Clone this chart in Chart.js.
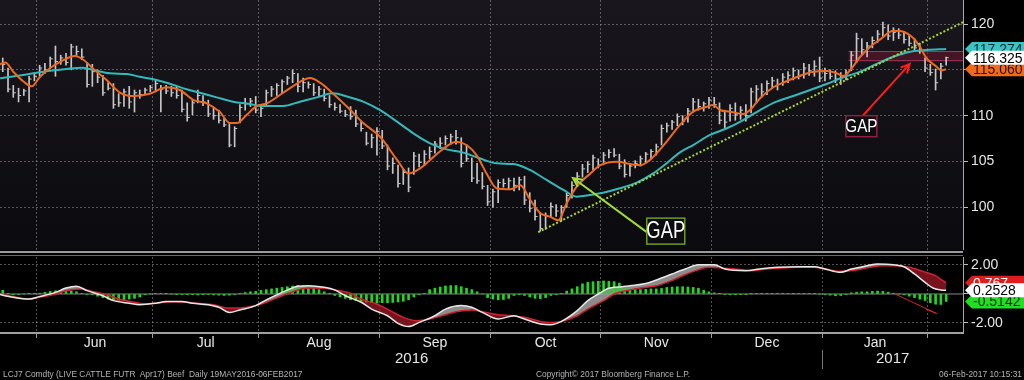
<!DOCTYPE html>
<html>
<head>
<meta charset="utf-8">
<script src="https://cdn.jsdelivr.net/npm/chart.js@4/dist/chart.umd.min.js"></script>
<style>
  body { margin: 0; background: #000; width: 1024px; height: 380px; overflow: hidden; position: relative; font-family: "Liberation Sans", Arial, sans-serif; }
  canvas { position: absolute; left: 0; }
  #priceChart { top: 0; }
  #macdChart { top: 257px; }
  .sep { position: absolute; left: 0; width: 963px; }
  .year { position: absolute; top: 350px; color: #e6e6e6; font-size: 15px; line-height: 16px; }
  .foot { position: absolute; top: 369px; color: #b4b4b4; font-size: 8.4px; line-height: 10px; white-space: pre; }
</style>
</head>
<body>
<canvas id="priceChart" width="1024" height="250"></canvas>
<div class="sep" style="top:251px;height:2px;background:#9a9a9a"></div>
<div class="sep" style="top:255px;height:1px;background:#666"></div>
<canvas id="macdChart" width="1024" height="123"></canvas>
<div class="year" style="left:395px">2016</div>
<div class="year" style="left:876px">2017</div>
<div style="position:absolute;left:822px;top:350px;width:1px;height:19px;background:#777"></div>
<div class="foot" style="left:3px">LCJ7 Comdty (LIVE CATTLE FUTR  Apr17) Beef  Daily 19MAY2016-06FEB2017</div>
<div class="foot" style="left:536px">Copyright© 2017 Bloomberg Finance L.P.</div>
<div class="foot" style="right:2px">06-Feb-2017 10:15:31</div>

<script>
Chart.defaults.font.family = '"Liberation Sans", Arial, sans-serif';

// Trading day index 0 = 19 May 2016, 180 = 06 Feb 2017
const xMin = 0.48;
const xMax = 183.2;

// Month boundaries (between last bar of a month and first of the next) and labels
const monthStarts = [7.5, 29.5, 49.5, 72.5, 93.5, 114.5, 135.5, 156.5, 176.5];
const monthLabels = ['Jun', 'Jul', 'Aug', 'Sep', 'Oct', 'Nov', 'Dec', 'Jan'];

// Daily bars: high / low / close
const highs = [
  116.4,116.3,115.2,113.3,113.0,112.9,114.3,114.6,115.5,115.7,
  116.4,117.6,116.6,116.8,117.8,117.6,117.3,115.8,115.6,115.0,
  114.4,113.6,113.5,112.4,112.9,113.2,112.8,112.8,113.0,113.3,
  113.9,113.3,113.3,113.2,113.2,112.8,111.4,111.7,112.8,112.2,
  111.7,110.9,110.6,109.7,109.2,108.8,111.2,111.9,111.9,112.1,
  111.0,112.8,113.2,113.5,113.9,114.3,115.0,114.6,114.1,113.7,
  113.5,113.2,112.9,112.2,111.4,111.2,110.6,111.0,110.6,109.4,
  108.2,108.0,108.7,108.4,106.8,105.4,104.6,104.2,104.3,106.0,
  105.8,106.2,106.6,107.2,107.6,107.8,108.0,108.4,107.6,106.8,
  105.4,104.8,103.8,102.4,102.0,103.0,103.1,103.2,103.2,103.3,
  103.4,101.6,100.8,99.4,99.4,100.5,100.3,100.2,101.6,102.8,
  103.8,104.7,105.0,105.7,105.3,106.0,106.3,106.4,105.8,105.2,
  104.8,105.1,105.6,106.0,106.3,106.9,109.0,109.2,109.5,110.2,
  110.0,110.8,111.9,111.8,111.5,112.0,112.0,111.4,110.6,111.2,
  111.4,111.0,111.2,113.0,113.3,113.5,113.8,114.2,114.0,114.6,
  114.8,115.2,115.0,115.7,115.6,116.0,116.4,115.2,115.0,114.9,
  114.7,115.0,117.0,119.0,118.4,118.0,118.6,119.3,120.2,119.9,
  119.6,119.5,119.2,118.8,118.4,117.9,116.3,115.6,115.1,115.7,
  116.4
];
const lows = [
  115.2,114.8,112.6,112.0,111.5,112.2,111.5,113.8,114.3,114.6,
  115.1,114.3,115.6,115.5,115.0,116.6,116.1,113.1,113.2,113.6,
  112.2,112.8,110.8,111.0,111.0,110.8,110.4,111.9,112.4,112.6,
  112.6,110.4,112.4,112.1,111.9,110.4,109.4,110.1,111.4,111.1,
  109.9,109.6,109.2,108.8,106.6,106.6,109.2,110.6,111.0,110.3,
  109.9,111.0,112.1,112.2,112.4,113.4,113.6,112.6,112.6,113.0,
  112.2,112.1,111.6,110.9,110.6,110.3,109.9,109.6,108.8,108.3,
  106.8,106.5,105.7,106.4,104.1,103.7,102.2,102.5,101.7,103.6,
  104.4,104.6,105.3,105.9,106.4,106.8,106.9,106.9,104.4,105.0,
  102.8,102.6,102.0,100.2,100.0,100.5,102.2,102.0,101.8,101.9,
  100.3,99.5,98.6,97.4,97.6,98.9,99.0,98.5,100.0,101.0,
  102.6,103.3,103.8,104.1,104.3,104.9,105.4,105.5,104.2,103.3,
  103.4,104.3,104.5,104.9,105.3,105.7,106.8,108.2,108.5,108.9,
  109.0,109.3,110.4,110.6,110.5,110.8,110.9,109.1,108.7,109.4,
  109.5,109.6,109.4,110.3,111.4,112.0,112.3,113.0,112.8,113.3,
  113.6,113.9,114.0,114.1,114.4,114.3,113.7,113.8,114.0,113.6,
  113.4,113.9,114.9,115.8,116.6,116.4,117.4,118.0,118.6,118.3,
  118.2,118.4,117.9,117.6,117.1,116.8,114.8,114.4,112.8,114.0,
  115.5
];
const closes = [
  115.9,115.6,112.9,112.5,112.2,112.7,114.0,114.3,115.2,115.0,
  116.2,115.9,116.3,115.8,117.5,117.0,116.4,113.4,114.8,114.2,
  112.5,113.0,111.2,111.4,112.6,111.5,112.5,112.3,112.8,113.1,
  113.5,112.9,112.7,112.5,112.2,110.7,109.8,111.4,112.2,111.5,
  110.2,110.0,109.5,109.0,106.8,108.6,110.9,111.3,111.6,110.6,
  110.8,112.5,112.9,113.3,113.7,114.1,114.6,113.2,113.6,113.4,
  112.5,112.9,111.9,111.2,110.9,110.5,110.1,109.9,109.1,108.6,
  107.0,107.6,108.3,106.7,104.5,104.8,102.6,103.8,102.2,105.6,
  104.9,105.8,106.1,106.9,107.0,107.5,107.7,107.6,104.8,105.3,
  103.2,102.9,102.3,100.6,101.7,102.7,102.6,102.9,102.4,103.0,
  100.8,99.9,99.0,97.7,99.1,100.1,99.6,100.0,101.3,102.4,
  103.4,104.2,104.7,105.4,104.6,105.7,106.0,105.7,104.5,103.6,
  104.5,104.8,105.3,105.8,106.1,106.6,108.6,108.9,109.3,109.9,
  109.4,110.5,111.5,111.0,111.3,111.7,111.2,109.5,109.3,110.8,
  110.1,110.6,110.0,112.6,112.9,112.6,113.5,113.8,113.4,114.2,
  114.4,114.9,114.3,115.2,114.9,115.4,114.1,114.6,114.3,114.0,
  114.2,114.7,116.6,118.4,117.2,117.6,118.2,118.9,119.6,118.7,
  119.1,118.8,118.3,117.9,117.4,117.1,115.2,114.7,113.6,115.4,
  116.325
];

// Fast moving average (orange), read at these bar positions
const fastIdx = [0,1.5,3,5,6.5,8,10,12,14.7,16.3,18.2,20.7,23.3,25.8,28.9,32.1,34.6,37.2,39.7,42.2,
  44.1,45.4,47.3,49.2,51.1,54.2,57.4,59.3,61.2,63.7,66.3,69.4,72.6,75.8,78,80.2,82.1,84.6,87.1,89,
  90.9,92.8,94.7,97.3,99.2,101.1,103,104.8,106.4,108,109.9,112.5,114.4,117.5,120.1,122,123.8,126.3,129.5,132,
  134.6,135.8,137.1,139,141.5,142.8,144.7,147.2,149.8,152.3,154.8,157.4,159.3,160.5,161.8,163.7,165.6,167.5,170,171.9,
  173.8,175,176.3,178.2,179,180];
const fastVal = [115.5,115.8,114.8,113.7,113.2,114.2,115.2,115.9,116.5,116.1,115.1,113.9,112.5,112.15,112.4,113.1,112.8,111.7,111.35,110.4,
  109.2,109.2,110.1,111.06,111.35,112.5,113.7,114.1,113.6,112.4,111.0,109.2,107.7,105.2,103.7,104.26,105.17,106.4,107.17,106.8,
  105.7,103.7,102.08,101.97,102.4,100.8,99.36,98.99,98.6,100.45,102.26,103.7,104.6,104.98,104.73,104.6,105.17,106.7,109.0,110.44,
  110.98,111.17,110.62,110.44,110.19,110.62,111.9,113.1,113.78,114.36,114.8,114.87,114.62,114.33,114.98,116.43,117.53,118.33,119.27,119.16,
  118.44,117.53,116.26,115.35,114.95,115.06];

// Slow moving average (cyan)
const slowIdx = [0.5,3.6,6.8,10,13.1,16,18.2,21.4,24.5,27,30.2,33.4,35.9,38.4,41.6,44.7,47.9,49.8,54.2,57.4,
  60.6,63.7,66.3,69.4,72.6,75.8,78.9,82.1,85.2,88.4,91.5,94.7,97.9,101,104.2,107.4,109.9,112.4,114.9,118.1,
  121.3,124.4,126.5,129.5,132,135.2,138.4,141.5,144.7,147.8,151,154.2,157.3,160.5,163.7,166.8,170,173.2,176.3,180];
const slowVal = [114.08,114.33,114.62,114.9,115.1,115.24,114.98,114.62,114.55,114.25,113.9,113.35,112.88,112.5,112.0,111.53,111.28,111.06,111.06,111.53,
  112.0,112.44,112.1,111.53,110.6,109.35,108.08,106.99,106.33,105.97,105.35,104.8,104.73,104.08,102.99,101.9,101.17,101.35,101.6,102.08,
  102.7,103.7,104.6,106.0,106.8,107.9,108.63,109.53,110.62,111.53,112.15,112.8,113.46,114.19,114.8,115.64,116.43,116.98,117.16,117.27];

// Trend line (dotted) through the October low
const trendIdx = [102.6, 183.2];
const trendVal = [97.3, 120.2];

// Gap zone and annotation arrows [bar index, price]
const gapStart = 161.5;
const gapLow = 116.0;
const gapHigh = 117.0;
const greenArrow = [[123.2, 97.3], [109.2, 103.2]];
const redArrow = [[164.2, 110.0], [173.1, 115.65]];

// Lower panel: MACD (white), signal (red), histogram (green)
const macdIdx = [0,3,6,8,11,13,15,17,20,22,25,27,30,32,35,37,40,42,44,46,
  49,51,54,57,59,62,64,66,69,71,74,76,78,80,83,85,88,90,92,95,
  98,100,103,105,107,110,112,114,116,118.5,120,123,125.5,128,130.5,133,136,138,142,144.5,
  148,152,155,157,160,162,165,167,170,172,174,176,177.5,179,180];
const macdVal = [0.0,-0.23,-0.35,-0.18,0.11,0.41,0.53,0.23,-0.12,-0.46,-0.64,-0.74,-0.64,-0.51,-0.51,-0.64,-0.74,-0.92,-1.27,-1.10,
  -0.80,-0.41,0.11,0.53,0.57,0.46,0.28,-0.12,-0.57,-1.04,-1.50,-2.03,-2.25,-1.96,-1.50,-1.04,-0.80,-0.92,-1.27,-1.73,
  -1.50,-1.73,-2.07,-2.12,-1.89,-1.15,-0.46,0.0,0.39,0.50,0.57,0.73,1.03,1.38,1.72,2.02,2.02,1.72,1.61,1.72,
  1.84,1.88,1.88,1.72,1.49,1.72,1.95,2.07,2.02,1.88,1.38,0.80,0.41,0.28,0.2528];
const sigIdx = [0,3,6,8,11,13,16,18,21,23,26,28,31,33,36,38,41,43.5,46,49,
  51,54,57,59,62,64,67,69,72,74.5,77,79.5,82,85,87,90,92,95,97.6,100,
  103,105,107,110,112,115,117,120,122,125,127.5,130,132.5,135,137.5,141,143,146,149,152,
  155,157,160,163,165.5,168,170.5,173,175.6,178,179,180];
const sigVal = [0.04,-0.18,-0.35,-0.23,0.0,0.23,0.34,0.18,-0.07,-0.35,-0.57,-0.69,-0.60,-0.53,-0.57,-0.64,-0.74,-0.97,-0.97,-0.80,
  -0.57,-0.12,0.28,0.41,0.39,0.28,0.04,-0.35,-0.69,-1.15,-1.61,-1.84,-1.73,-1.43,-1.22,-1.10,-1.22,-1.43,-1.50,-1.61,
  -1.89,-1.96,-1.89,-1.50,-1.04,-0.46,0.0,0.28,0.41,0.57,0.87,1.26,1.61,1.84,1.79,1.68,1.61,1.72,1.79,1.84,
  1.84,1.72,1.56,1.65,1.84,1.95,1.95,1.84,1.56,1.26,1.0,0.767];
const hist = [
  0.30,0.25,0.05,-0.05,-0.05,0.00,0.05,0.05,0.05,0.12,
  0.18,0.22,0.22,0.20,0.20,0.15,0.02,-0.03,-0.05,-0.15,
  -0.25,-0.35,-0.40,-0.42,-0.40,-0.35,-0.30,-0.20,-0.05,0.00,
  0.03,0.03,0.02,0.00,-0.02,-0.03,-0.05,-0.05,-0.06,-0.05,
  -0.04,-0.06,-0.08,-0.10,-0.08,-0.05,0.05,0.10,0.15,0.18,
  0.25,0.30,0.35,0.40,0.45,0.50,0.55,0.60,0.55,0.50,
  0.40,0.30,0.15,0.05,-0.10,-0.20,-0.30,-0.40,-0.45,-0.50,
  -0.55,-0.60,-0.62,-0.60,-0.60,-0.58,-0.55,-0.50,-0.40,-0.20,
  -0.05,0.05,0.30,0.40,0.48,0.55,0.58,0.58,0.50,0.40,
  0.30,0.15,0.00,-0.25,-0.35,-0.40,-0.38,-0.30,-0.10,-0.05,
  -0.10,-0.20,-0.30,-0.32,-0.25,-0.10,-0.05,0.05,0.20,0.35,
  0.50,0.70,0.80,0.85,0.88,0.90,0.88,0.85,0.75,0.55,
  0.35,0.30,0.30,0.32,0.35,0.35,0.38,0.45,0.48,0.50,
  0.50,0.48,0.45,0.40,0.25,0.15,0.08,0.02,-0.03,-0.05,
  -0.05,-0.04,-0.02,0.02,0.03,0.05,0.05,0.04,0.05,0.05,
  0.03,0.02,0.03,0.04,0.03,0.02,0.00,-0.02,-0.08,-0.12,
  -0.10,-0.05,0.08,0.12,0.15,0.15,0.18,0.20,0.18,0.12,
  0.05,0.00,-0.05,-0.15,-0.25,-0.35,-0.45,-0.60,-0.70,-0.72,
  -0.5142
];

// Last values shown in the axis tags
const lastSlow = '117.274', lastClose = '116.325', lastFast = '115.060';
const lastSignal = '0.767', lastMacd = '0.2528', lastHist = '-0.5142';

const gridColor = 'rgba(150,150,158,0.55)';
const pairs = (idx, val) => idx.map((v, k) => ({x: v, y: val[k]}));
const noPad = s => { s.paddingTop = 0; s.paddingBottom = 0; s.paddingLeft = 0; s.paddingRight = 0; };

function drawTag(ctx, x, y, text, bg, fg) {
  const h = 14;
  ctx.save();
  ctx.fillStyle = bg;
  ctx.beginPath();
  ctx.moveTo(x, y);
  ctx.lineTo(x + 7, y - h / 2);
  ctx.lineTo(1024, y - h / 2);
  ctx.lineTo(1024, y + h / 2);
  ctx.lineTo(x + 7, y + h / 2);
  ctx.closePath();
  ctx.fill();
  ctx.fillStyle = fg;
  ctx.font = '14px "Liberation Sans", Arial';
  ctx.textBaseline = 'middle';
  ctx.fillText(text, x + 8, y + 1);
  ctx.restore();
}

function drawArrow(ctx, x1, y1, x2, y2, color) {
  const ang = Math.atan2(y2 - y1, x2 - x1);
  ctx.save();
  ctx.strokeStyle = color;
  ctx.lineWidth = 2;
  ctx.beginPath();
  ctx.moveTo(x1, y1);
  ctx.lineTo(x2, y2);
  ctx.moveTo(x2 - 10 * Math.cos(ang - 0.45), y2 - 10 * Math.sin(ang - 0.45));
  ctx.lineTo(x2, y2);
  ctx.lineTo(x2 - 10 * Math.cos(ang + 0.45), y2 - 10 * Math.sin(ang + 0.45));
  ctx.stroke();
  ctx.restore();
}

function drawGapBox(ctx, left, top, w, h, border, size) {
  ctx.save();
  ctx.fillStyle = '#0d0c10';
  ctx.fillRect(left, top, w, h);
  ctx.strokeStyle = border;
  ctx.lineWidth = 1.5;
  ctx.strokeRect(left, top, w, h);
  ctx.fillStyle = '#ffffff';
  ctx.font = size + 'px "Liberation Sans", Arial';
  ctx.textAlign = 'center';
  ctx.textBaseline = 'middle';
  ctx.translate(left + w / 2, top + h / 2 + 1);
  ctx.scale(0.8, 1);
  ctx.fillText('GAP', 0, 0);
  ctx.restore();
}

const upperDecor = {
  id: 'upperDecor',
  beforeDraw(chart) {
    const {ctx, chartArea: a} = chart;
    const g = ctx.createLinearGradient(0, a.top, 0, a.bottom);
    g.addColorStop(0, '#19171d');
    g.addColorStop(1, '#0b0a0e');
    ctx.save();
    ctx.fillStyle = g;
    ctx.fillRect(a.left, a.top, a.right - a.left, a.bottom - a.top);
    ctx.restore();
  },
  beforeDatasetsDraw(chart) {
    const {ctx, chartArea: a, scales: {x, y}} = chart;
    const x0 = x.getPixelForValue(gapStart);
    const y0 = y.getPixelForValue(gapHigh);
    const y1 = y.getPixelForValue(gapLow);
    ctx.save();
    ctx.fillStyle = 'rgba(110,22,48,0.55)';
    ctx.fillRect(x0, y0, a.right - x0, y1 - y0);
    ctx.strokeStyle = 'rgba(175,60,95,0.9)';
    ctx.lineWidth = 1;
    ctx.beginPath();
    ctx.moveTo(x0, y0); ctx.lineTo(a.right, y0);
    ctx.moveTo(x0, y1); ctx.lineTo(a.right, y1);
    ctx.stroke();
    ctx.restore();
  },
  afterDraw(chart) {
    const {ctx, chartArea: a, scales: {x, y}} = chart;
    const p = pt => [x.getPixelForValue(pt[0]), y.getPixelForValue(pt[1])];
    const [gx1, gy1] = p(greenArrow[0]);
    const [gx2, gy2] = p(greenArrow[1]);
    drawArrow(ctx, gx1, gy1, gx2, gy2, '#a2dd34');
    drawGapBox(ctx, gx1, gy1 - 14, 38, 26, '#6f9a2a', 23);
    const [rx1, ry1] = p(redArrow[0]);
    const [rx2, ry2] = p(redArrow[1]);
    drawArrow(ctx, rx1, ry1, rx2, ry2, '#ff1c1c');
    drawGapBox(ctx, rx1 - 17, ry1, 31, 21, '#8e1f3f', 19);
    const tx = a.right + 2;
    drawTag(ctx, tx, y.getPixelForValue(parseFloat(lastSlow)), lastSlow, '#3cc4c4', '#0a2a33');
    drawTag(ctx, tx, y.getPixelForValue(parseFloat(lastFast)), lastFast, '#f26b1d', '#2a1000');
    drawTag(ctx, tx, y.getPixelForValue(parseFloat(lastClose)), lastClose, '#ffffff', '#000000');
  }
};

const lowerDecor = {
  id: 'lowerDecor',
  beforeDraw(chart) {
    const {ctx, chartArea: a, scales: {y}} = chart;
    const y0 = y.getPixelForValue(0);
    ctx.save();
    ctx.strokeStyle = '#8a8a8a';
    ctx.lineWidth = 1;
    ctx.beginPath();
    ctx.moveTo(a.left, y0);
    ctx.lineTo(a.right, y0);
    ctx.stroke();
    ctx.restore();
  },
  afterDatasetsDraw(chart) {
    const {ctx, scales: {x, y}} = chart;
    ctx.save();
    ctx.strokeStyle = '#d4202e';
    ctx.lineWidth = 1;
    ctx.beginPath();
    ctx.moveTo(x.getPixelForValue(170.3), y.getPixelForValue(0));
    ctx.lineTo(x.getPixelForValue(178.3), y.getPixelForValue(-1.36));
    ctx.lineTo(x.getPixelForValue(176.2), y.getPixelForValue(-1.05));
    ctx.stroke();
    ctx.restore();
  },
  afterDraw(chart) {
    const {ctx, chartArea: a, scales: {y}} = chart;
    const tx = a.right + 2;
    drawTag(ctx, tx, y.getPixelForValue(parseFloat(lastSignal)), lastSignal, '#e01c1c', '#ffffff');
    drawTag(ctx, tx, y.getPixelForValue(parseFloat(lastHist)), lastHist, '#22dd22', '#003300');
    drawTag(ctx, tx, y.getPixelForValue(parseFloat(lastMacd)), lastMacd, '#ffffff', '#000000');
  }
};

// Upper panel: price bars with moving averages
new Chart(document.getElementById('priceChart'), {
  type: 'bar',
  data: {
    datasets: [
      { type: 'line', data: pairs(trendIdx, trendVal), borderColor: '#a9d631', borderWidth: 2, borderDash: [2, 2], pointRadius: 0, order: 0 },
      { type: 'line', data: pairs(fastIdx, fastVal), borderColor: '#f06a1e', borderWidth: 2, pointRadius: 0, cubicInterpolationMode: 'monotone', order: 1 },
      { type: 'line', data: pairs(slowIdx, slowVal), borderColor: '#33b9b9', borderWidth: 2, pointRadius: 0, cubicInterpolationMode: 'monotone', order: 2 },
      { type: 'line', data: closes.map((c, i) => ({x: i, y: c})), showLine: false, pointStyle: 'dash', pointRadius: 2.6,
        borderColor: '#c6c6c6', pointBorderColor: '#c6c6c6', pointBorderWidth: 1, order: 3 },
      { type: 'bar', data: highs.map((h, i) => ({x: i, y: [lows[i], h]})), backgroundColor: '#c6c6c6', barThickness: 1, order: 4 }
    ]
  },
  options: {
    responsive: false,
    animation: false,
    events: [],
    layout: { padding: 0, autoPadding: false },
    plugins: { legend: { display: false }, tooltip: { enabled: false } },
    scales: {
      x: {
        type: 'linear', min: xMin, max: xMax, offset: false,
        afterBuildTicks: s => { s.ticks = monthStarts.map(v => ({value: v})); },
        afterFit: s => { s.height = 0; noPad(s); },
        ticks: { display: false },
        grid: { color: gridColor, drawTicks: false, offset: false },
        border: { display: false, dash: [2, 2] }
      },
      y: {
        position: 'right', min: 95.35, max: 122.62,
        afterBuildTicks: s => { s.ticks = [100, 105, 110, 115, 120].map(v => ({value: v})); },
        afterFit: s => { s.width = 61; noPad(s); },
        ticks: { color: '#e6e6e6', font: { size: 14 }, padding: 3, callback: v => v === 115 ? '' : v },
        grid: { color: gridColor, tickLength: 5, tickColor: '#bbbbbb' },
        border: { color: '#a8a8a8', dash: [2, 2] }
      }
    }
  },
  plugins: [upperDecor]
});

// Lower panel: MACD with signal and histogram
new Chart(document.getElementById('macdChart'), {
  type: 'bar',
  data: {
    datasets: [
      { type: 'line', data: pairs(macdIdx, macdVal), borderColor: '#e8e8e8', borderWidth: 1.5, pointRadius: 0,
        cubicInterpolationMode: 'monotone', order: 0,
        fill: { target: 1, above: 'rgba(165,165,165,0.85)', below: 'rgba(140,22,34,0.85)' } },
      { type: 'line', data: pairs(sigIdx, sigVal), borderColor: '#cf2230', borderWidth: 1.5, pointRadius: 0,
        cubicInterpolationMode: 'monotone', order: 1 },
      { type: 'bar', data: hist.map((v, i) => ({x: i, y: v})), backgroundColor: '#20d820', barThickness: 2, order: 2 }
    ]
  },
  options: {
    responsive: false,
    animation: false,
    events: [],
    layout: { padding: 0, autoPadding: false },
    plugins: { legend: { display: false }, tooltip: { enabled: false }, filler: { drawTime: 'beforeDatasetsDraw' } },
    scales: {
      x: {
        type: 'linear', position: 'bottom', min: xMin, max: xMax, offset: false,
        afterBuildTicks: s => { s.ticks = monthStarts.map(v => ({value: v})); },
        afterFit: s => { s.height = 2; noPad(s); },
        ticks: { display: false },
        grid: { color: gridColor, tickLength: 5, tickColor: '#999999', offset: false },
        border: { display: true, color: '#a0a0a0', width: 2, dash: [2, 2] }
      },
      x2: {
        type: 'linear', position: 'bottom', min: xMin, max: xMax, offset: false,
        afterBuildTicks: s => {
          s.ticks = monthLabels.map((m, k) => ({value: (monthStarts[k] + monthStarts[k + 1]) / 2}));
        },
        afterFit: s => { s.height = 45; noPad(s); },
        ticks: { color: '#e8e8e8', font: { size: 14 }, padding: 0, autoSkip: false, maxRotation: 0,
          callback: (v, k) => monthLabels[k] },
        grid: { display: false, drawTicks: false },
        border: { display: false }
      },
      y: {
        position: 'right', min: -2.69, max: 2.55,
        afterBuildTicks: s => { s.ticks = [-2, 0, 2].map(v => ({value: v})); },
        afterFit: s => { s.width = 61; noPad(s); },
        ticks: { color: '#e6e6e6', font: { size: 14 }, padding: 3, callback: v => v === 0 ? '' : v.toFixed(2) },
        grid: { color: c => (c.tick && c.tick.value === 0) ? 'rgba(0,0,0,0)' : gridColor, tickLength: 5, tickColor: '#bbbbbb' },
        border: { color: '#a8a8a8', dash: [2, 2] }
      }
    }
  },
  plugins: [lowerDecor]
});
</script>
</body>
</html>
